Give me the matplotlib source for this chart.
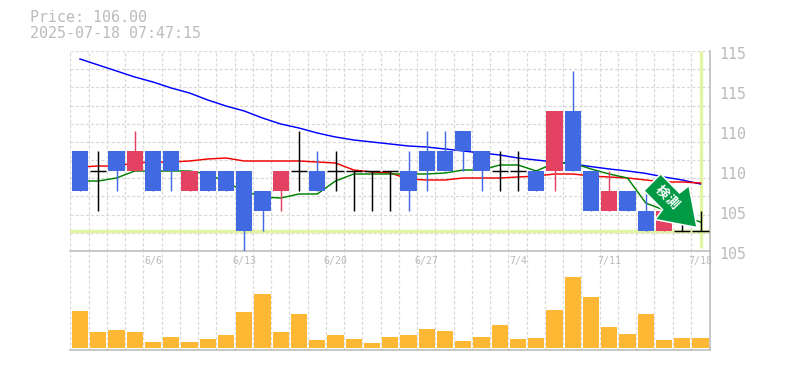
import numpy as np
import matplotlib
matplotlib.use("Agg")
import matplotlib.pyplot as plt
from matplotlib.patches import Polygon
from matplotlib.transforms import ScaledTranslation

plt.rcParams['lines.scale_dashes'] = False

W, H = 785, 370

opens  = [110,109,110,109,110,110,108,109,109,109,108,108,109,109,109,109,109,109,109,110,110,111,110,109,109,109,109,112,109,107,108,107,106,106,106]
closes = [108,109,109,110,108,109,109,108,108,106,107,109,109,108,109,109,109,109,108,109,109,110,109,109,109,108,112,109,107,108,107,106,107,106,106]
highs  = [110,110,110,111,110,110,109,109,109,109,108,109,111,110,110,109,109,109,110,111,111,111,110,110,110,109,112,114,109,109,108,108,107,107,107]
lows   = [108,107,108,109,108,108,108,108,108,105,106,107,108,108,108,107,107,107,107,108,109,109,108,108,108,108,108,109,107,107,107,106,106,106,106]

ma_long = [114.60,114.30,114.00,113.70,113.45,113.15,112.90,112.55,112.25,112.00,111.65,111.35,111.15,110.90,110.70,110.55,110.45,110.35,110.25,110.20,110.10,110.00,109.90,109.80,109.65,109.55,109.45,109.35,109.22,109.10,109.00,108.88,108.70,108.55,108.35]
ma_mid  = [109.20,109.25,109.25,109.40,109.45,109.45,109.50,109.60,109.65,109.50,109.50,109.50,109.50,109.45,109.40,109.05,108.95,108.90,108.60,108.55,108.55,108.65,108.65,108.65,108.70,108.75,108.85,108.85,108.75,108.70,108.65,108.55,108.45,108.45,108.40]
ma_short= [108.50,108.50,108.65,109.00,109.00,109.00,109.00,108.85,108.45,108.00,107.70,107.65,107.85,107.85,108.50,108.85,108.85,108.85,108.85,108.85,108.90,109.05,109.05,109.30,109.30,109.00,109.40,109.40,109.10,108.85,108.65,107.40,107.05,106.75,106.45]

volumes = [370,160,180,160,60,110,60,90,130,360,540,160,340,80,130,90,50,110,130,190,170,70,110,230,90,100,380,710,510,210,140,340,80,100,100]

date_pos = [4, 9, 14, 19, 24, 29, 34]
date_labels = ['6/6', '6/13', '6/20', '6/27', '7/4', '7/11', '7/18']
price_ticks = [105, 107, 109, 111, 113, 115]
price_labels = ['105', '105', '110', '110', '115', '115']
last_price = 106.00
stamp = '2025-07-18 07:47:15'
badge = '検測'

BLUE, RED = '#4169E1', '#E34262'
GRID, FRAME, TEXT = '#D8D8D8', '#BEBEBE', '#BBBBBB'
YELLOW = '#E1F5A3'
DASH = (0, (2.2, 1.5))
MONO = 'DejaVu Sans Mono'

fig = plt.figure(figsize=(W / 100, H / 100), dpi=100, facecolor='white')

def box(x0, y0, x1, y1):
    return [x0 / W, 1 - y1 / H, (x1 - x0) / W, (y1 - y0) / H]

ax = fig.add_axes(box(70, 51, 710, 251))
vx = fig.add_axes(box(70, 251, 710, 350))
n = len(opens)
xs = np.arange(n)
xlim = ((70 - 80) / 18.25, (710 - 80) / 18.25)

for a in (ax, vx):
    a.set_xlim(*xlim)
    a.set_xticks([])
    a.patch.set_alpha(0)
    for s in ('top', 'left'):
        a.spines[s].set_visible(False)
    for s in ('right', 'bottom'):
        a.spines[s].set_color(FRAME)
        a.spines[s].set_linewidth(1.2)
    for g in np.arange(35) - 0.53:
        a.axvline(g, color=GRID, lw=0.9, ls=DASH, zorder=0)

ax.set_ylim(105, 115)
for g in np.linspace(105, 115, 12)[1:]:
    ax.axhline(g, color=GRID, lw=0.9, ls=DASH, zorder=0)

ax.axhline(last_price, color=YELLOW, lw=2.4, zorder=1)
ax.vlines(xs[-1], 105.15, 115, color=YELLOW, lw=2.4, zorder=1)

ax.plot(xs, ma_long, color='#0000FF', lw=1.05, zorder=2)
ax.plot(xs, ma_mid, color='#F00000', lw=1.05, zorder=2)
ax.plot(xs, ma_short, color='#008000', lw=1.05, zorder=2)

for i in range(n):
    o, c = opens[i], closes[i]
    col = 'black' if o == c else (RED if c > o else BLUE)
    ax.vlines(i, lows[i], highs[i], color=col, lw=1.05, zorder=3)
    if o == c:
        ax.hlines(o, i - 0.44, i + 0.44, color=col, lw=1.05, zorder=3)
    else:
        ax.bar(i, abs(c - o), bottom=min(o, c), width=0.88, color=col, lw=0, zorder=3, antialiased=False)

ax.yaxis.tick_right()
ax.set_yticks(price_ticks)
ax.set_yticklabels(price_labels, family=MONO, fontsize=10.8, color=TEXT)
ax.tick_params(axis='y', length=0, pad=6.5)
down = ScaledTranslation(0, -2 / 100, fig.dpi_scale_trans)
for lab in ax.get_yticklabels():
    lab.set_clip_on(False)
    lab.set_transform(lab.get_transform() + down)

vx.set_ylim(-20, 970)
vx.set_yticks([])
vx.bar(xs, volumes, width=0.88, color='#FFB833', lw=0, zorder=2, antialiased=False)

for p, lab in zip(date_pos, date_labels):
    vx.text(p, 870, lab, ha='center', va='center', family=MONO, fontsize=7.2, color=TEXT, zorder=4, clip_on=False)

fig.text(30 / W, 1 - 18 / H, f'Price: {last_price:.2f}', family=MONO, fontsize=10.8, color=TEXT, va='center', ha='left')
fig.text(30 / W, 1 - 33 / H, stamp, family=MONO, fontsize=10.8, color=TEXT, va='center', ha='left')

# badge arrow drawn in figure pixel space
shape = [(660.7, 175), (679.5, 194), (688.5, 187), (696, 226.5), (656.5, 219), (663.5, 209.5), (645, 190.7)]
verts = [(x / W, 1 - y / H) for x, y in shape]
fig.add_artist(Polygon(verts, closed=True, transform=fig.transFigure, facecolor='white', edgecolor='white',
                       lw=2.2, joinstyle='miter', zorder=10))
fig.add_artist(Polygon(verts, closed=True, transform=fig.transFigure, facecolor='#009944', edgecolor='none',
                       lw=0, zorder=11))
for ch, (bx, by) in zip(badge, [(661.7, 191.7), (672, 202)]):
    fig.text(bx / W, 1 - by / H, ch, family=['Noto Sans CJK JP', 'DejaVu Sans'], fontsize=9.5, weight='bold',
             color='white', rotation=-45, rotation_mode='anchor', ha='center', va='center', zorder=12)

fig.savefig('out.png', dpi=100)
